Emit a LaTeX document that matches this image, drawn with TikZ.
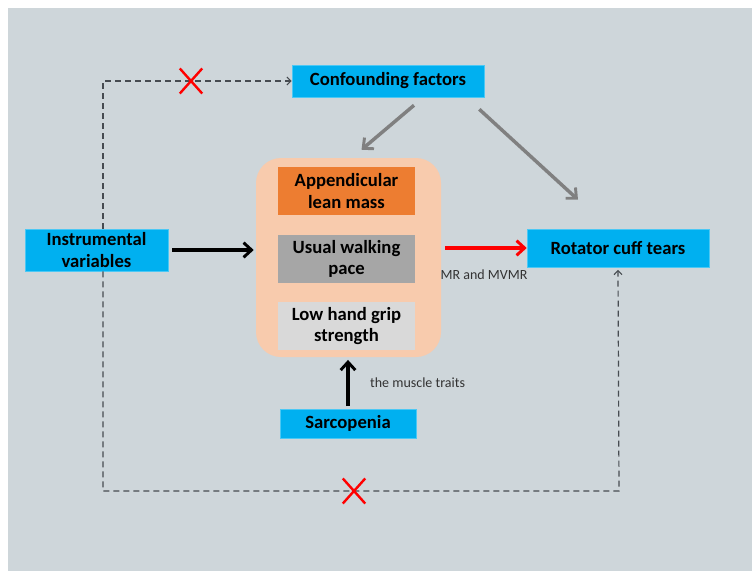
\documentclass[tikz,border=0pt]{standalone}
\usepackage{fontspec}
\setmainfont{Carlito}
\usepackage{xcolor}
\usetikzlibrary{arrows.meta,shapes.misc,calc}

\definecolor{bgcol}{RGB}{206,214,218}
\definecolor{cyanbox}{RGB}{0,176,240}
\definecolor{orangebox}{RGB}{237,125,49}
\definecolor{graybox}{RGB}{166,166,166}
\definecolor{lightbox}{RGB}{217,217,217}
\definecolor{salmon}{RGB}{248,203,173}
\definecolor{dashcol}{RGB}{70,75,80}
\definecolor{arrowgray}{RGB}{128,128,128}

\tikzset{
  cyannode/.style={fill=cyanbox, draw=cyanbox!70!white, line width=0.4pt, align=center,
    font=\fontsize{14}{16}\selectfont\bfseries, inner sep=0pt},
  traitnode/.style={minimum width=102.75pt, minimum height=36pt, align=center,
    font=\fontsize{14}{16}\selectfont\bfseries, inner sep=0pt},
  blackarrow/.style={line width=2.6pt, -{Straight Barb[length=6pt,width=11pt,line width=2.2pt]}},
  redarrow/.style={red, line width=2.6pt, -{Straight Barb[length=6pt,width=11pt,line width=2.2pt]}},
  grayarrow/.style={arrowgray, line width=2.6pt, -{Straight Barb[length=6pt,width=11pt,line width=2.2pt]}},
  dashline/.style={dashcol, line width=0.9pt, dash pattern=on 4.5pt off 3pt, -{Straight Barb[length=3pt,width=6pt,line width=0.8pt]}},
  redcross/.style={cross out, draw=red, solid, line width=1.8pt, minimum width=15pt, minimum height=17pt, inner sep=0pt},
  smalllabel/.style={font=\fontsize{10.5}{12}\selectfont, text=black!80}
}

\begin{document}
\begin{tikzpicture}[x=0.75pt, y=-0.75pt]
  \useasboundingbox (0,0) rectangle (752,571);
  \fill[white] (0,0) rectangle (752,571);
  \fill[bgcol] (8,8) rectangle (752,571);

  % exposure group
  \node[fill=salmon, rounded corners=18.75pt, minimum width=138.75pt, minimum height=149.25pt] (muscle) at (348.5,257.5) {};
  \node[traitnode, fill=orangebox] (alm) at (346.5,191) {Appendicular\\lean mass};
  \node[traitnode, fill=graybox] (uwp) at (346.5,259) {Usual walking\\pace};
  \node[traitnode, fill=lightbox] (lhg) at (346.5,326) {Low hand grip\\strength};

  % other nodes
  \node[cyannode, minimum width=144pt, minimum height=24pt] (conf) at (388,81) {Confounding factors};
  \node[cyannode, minimum width=107.25pt, minimum height=31.5pt] (iv) at (96.5,250) {Instrumental\\variables};
  \node[cyannode, minimum width=136.5pt, minimum height=28.5pt] (rot) at (618,248) {Rotator cuff tears};
  \node[cyannode, minimum width=102pt, minimum height=21.75pt] (sarc) at (348,423.5) {Sarcopenia};

  % violated assumptions
  \coordinate (bend) at (619,491);
  \draw[dashline] ([xshift=4.9pt]iv.north) |- (conf.west);
  \draw[dashline, shorten >=2pt] ([xshift=4.9pt]iv.south) |- (bend) -- (rot.south);
  \node[redcross] (x1) at (191,81) {};
  \node[redcross] (x2) at (354,491) {};

  % causal arrows
  \draw[blackarrow, shorten <=3pt, shorten >=1.5pt] (iv.east) -- (iv.east -| muscle.west);
  \draw[redarrow, shorten <=3pt] (rot.west -| muscle.east) -- (rot.west)
    node[midway, below=12pt, smalllabel] {MR and MVMR};
  \draw[blackarrow, shorten <=2pt, shorten >=2pt] (sarc.north) -- (sarc.north |- muscle.south)
    node[midway, right=12pt, smalllabel] {the muscle traits};
  \draw[grayarrow] ([shift={(26,8)}]conf.south) -- ([shift={(13,-8)}]muscle.north);
  \draw[grayarrow] ([shift={(-5,12)}]conf.south east) -- ([shift={(-40,-29)}]rot.north);
\end{tikzpicture}
\end{document}
